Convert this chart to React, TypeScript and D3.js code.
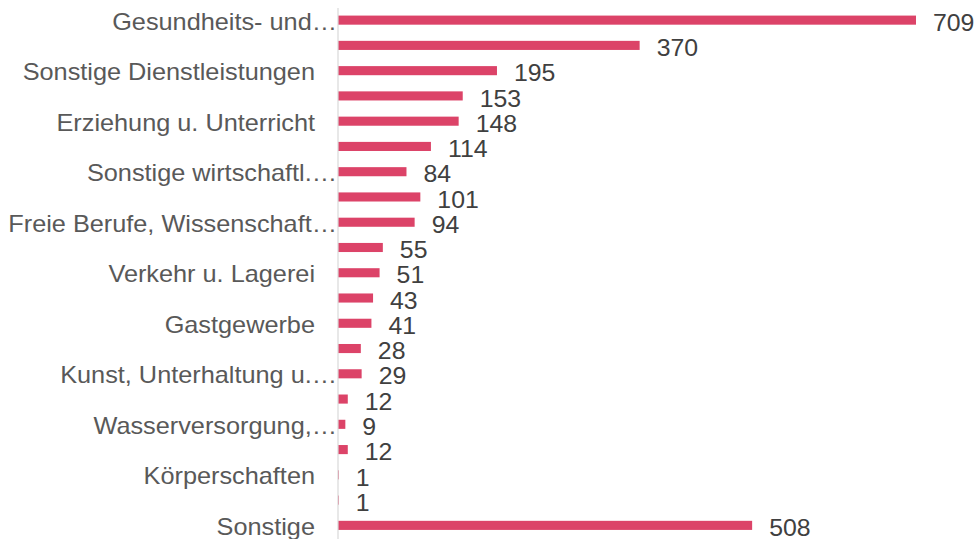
import * as d3 from "d3";
import { useEffect, useRef } from "react";

const categories = [
  "Gesundheits- und…",
  "Handel",
  "Sonstige Dienstleistungen",
  "Verarbeitendes Gewerbe",
  "Erziehung u. Unterricht",
  "Baugewerbe",
  "Sonstige wirtschaftl.…",
  "Information u. Kommunikation",
  "Freie Berufe, Wissenschaft…",
  "Finanz- u. Versicherungsdienstl.",
  "Verkehr u. Lagerei",
  "Grundstücks- u. Wohnungswesen",
  "Gastgewerbe",
  "Öffentliche Verwaltung",
  "Kunst, Unterhaltung u.…",
  "Energieversorgung",
  "Wasserversorgung,…",
  "Land- u. Forstwirtschaft",
  "Körperschaften",
  "Bergbau",
  "Sonstige",
];

const values = [709, 370, 195, 153, 148, 114, 84, 101, 94, 55, 51, 43, 41, 28, 29, 12, 9, 12, 1, 1, 508];

// only every other category label is printed on the axis
const shownLabels = categories.filter((_, i) => i % 2 === 0);

type Row = { label: string; value: number };

export default function App() {
  const svgRef = useRef<SVGSVGElement | null>(null);

  useEffect(() => {
    if (!svgRef.current) return;
    const width = 975;
    const height = 539;
    const axisX = 338;
    const font = "'Liberation Sans', Arial, sans-serif";
    const rows: Row[] = categories.map((label, i) => ({ label, value: values[i] }));

    const svg = d3.select(svgRef.current);
    svg.selectAll("*").remove();
    svg.attr("viewBox", `0 0 ${width} ${height}`);

    const y = d3
      .scaleBand<string>()
      .domain(categories)
      .range([7.5, 538])
      .paddingInner(0.64)
      .paddingOuter(0.32);

    const x = d3
      .scaleLinear()
      .domain([0, d3.max(values) ?? 1])
      .range([axisX, 916]);

    const center = (label: string) => (y(label) ?? 0) + y.bandwidth() / 2;

    svg
      .append("g")
      .selectAll("rect")
      .data(rows)
      .join("rect")
      .attr("x", x(0))
      .attr("y", (d) => y(d.label) ?? 0)
      .attr("width", (d) => x(d.value) - x(0))
      .attr("height", y.bandwidth())
      .attr("fill", "#dc4368");

    svg
      .append("line")
      .attr("x1", axisX)
      .attr("x2", axisX)
      .attr("y1", 8)
      .attr("y2", height)
      .attr("stroke", "#d9d9d9")
      .attr("stroke-width", 1.2);

    // the source text is drawn a bit wider than Arial, hence the x-scale
    svg
      .append("g")
      .selectAll("text")
      .data(rows)
      .join("text")
      .attr("transform", (d) => `translate(${x(d.value) + 17},${center(d.label) + 2.5}) scale(1.08,1)`)
      .attr("dominant-baseline", "central")
      .attr("font-family", font)
      .attr("font-size", 23)
      .attr("fill", "#404040")
      .text((d) => d.value);

    svg
      .append("g")
      .selectAll("text")
      .data(shownLabels)
      .join("text")
      .attr("transform", (d) => {
        const tx = d.endsWith("…") ? axisX - 1 : axisX - 23;
        return `translate(${tx},${center(d) + 1.5}) scale(1.1,1)`;
      })
      .attr("text-anchor", "end")
      .attr("dominant-baseline", "central")
      .attr("font-family", font)
      .attr("font-size", 23)
      .attr("fill", "#595959")
      .text((d) => d);
  }, []);

  return (
    <div style={{ position: "absolute", left: 0, top: 0, width: 975, height: 539, background: "#fff" }}>
      <svg ref={svgRef} width={975} height={539} style={{ display: "block" }} />
    </div>
  );
}
